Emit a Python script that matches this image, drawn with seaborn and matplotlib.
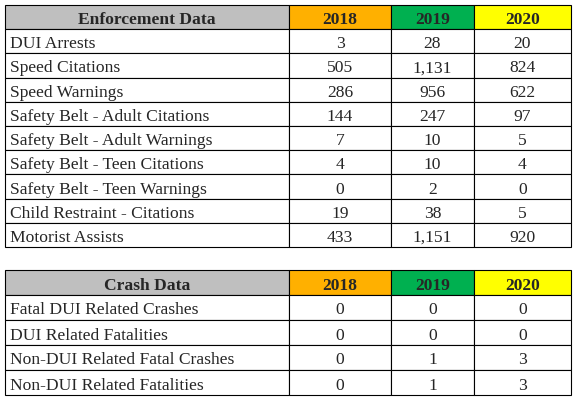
import matplotlib
matplotlib.use("Agg")
import matplotlib.pyplot as plt
import seaborn as sns
from matplotlib.patches import Rectangle

sns.set_theme(style="white")
plt.rcParams['font.family'] = ['Liberation Serif', 'DejaVu Serif']

years = ["2018", "2019", "2020"]
enf_labels = ["DUI Arrests", "Speed Citations", "Speed Warnings",
              "Safety Belt - Adult Citations", "Safety Belt - Adult Warnings",
              "Safety Belt - Teen Citations", "Safety Belt - Teen Warnings",
              "Child Restraint - Citations", "Motorist Assists"]
enf_2018 = ["3", "505", "286", "144", "7", "4", "0", "19", "433"]
enf_2019 = ["28", "1,131", "956", "247", "10", "10", "2", "38", "1,151"]
enf_2020 = ["20", "824", "622", "97", "5", "4", "0", "5", "920"]
crash_labels = ["Fatal DUI Related Crashes", "DUI Related Fatalities",
                "Non-DUI Related Fatal Crashes", "Non-DUI Related Fatalities"]
crash_2018 = ["0", "0", "0", "0"]
crash_2019 = ["0", "0", "1", "1"]
crash_2020 = ["0", "0", "3", "3"]

fig = plt.figure(figsize=(5.79, 4.0), dpi=100)
ax = fig.add_axes([0, 0, 1, 1])
ax.set_xlim(0, 579)
ax.set_ylim(400, 0)
ax.axis("off")

cols = [5, 289, 391, 474, 571]
head_colors = ["#BFBFBF", "#FFB000", "#00B050", "#FFFF00"]
FS = 12.6

def draw_table(top, rowh, title, labels, c1, c2, c3):
    rows = [[title] + years] + [[l, a, b, c] for l, a, b, c in zip(labels, c1, c2, c3)]
    for r, row in enumerate(rows):
        y0 = top + r * rowh
        for c, txt in enumerate(row):
            x0, x1 = cols[c], cols[c + 1]
            fc = head_colors[c] if r == 0 else "white"
            ax.add_patch(Rectangle((x0, y0), x1 - x0, rowh, facecolor=fc,
                                   edgecolor="black", linewidth=0.8))
            yc = y0 + rowh / 2 + 1
            if r == 0:
                ax.text((x0 + x1) / 2, yc, txt, ha="center", va="center_baseline",
                        fontsize=FS, fontweight="bold")
            elif c == 0:
                ax.text(x0 + 5, yc, txt, ha="left", va="center_baseline", fontsize=FS)
            else:
                ax.text((x0 + x1) / 2, yc, txt, ha="center", va="center_baseline", fontsize=FS)

draw_table(5, 24.2, "Enforcement Data", enf_labels, enf_2018, enf_2019, enf_2020)
draw_table(270, 25, "Crash Data", crash_labels, crash_2018, crash_2019, crash_2020)

fig.savefig("out.png", dpi=100)
